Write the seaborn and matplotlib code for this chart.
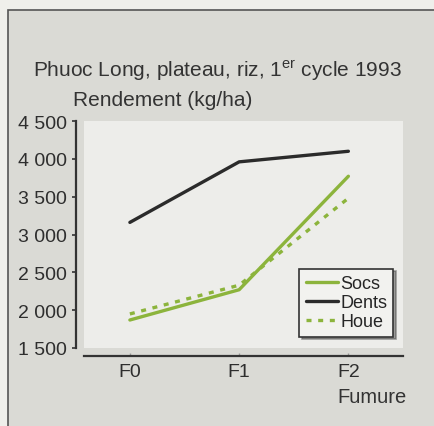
import numpy as np
import pandas as pd
import seaborn as sns
import matplotlib.pyplot as plt
from matplotlib.patches import Rectangle

# Data
fumure = ["F0", "F1", "F2"]
socs = [1870, 2270, 3770]
dents = [3160, 3960, 4100]
houe = [1950, 2330, 3480]
series = ["Socs", "Dents", "Houe"]
y_ticks = [1500, 2000, 2500, 3000, 3500, 4000, 4500]

df = pd.DataFrame({
    "Fumure": fumure * 3,
    "Rendement": socs + dents + houe,
    "Outil": np.repeat(series, len(fumure)),
})

sns.set_style("ticks")
plt.rcParams["font.family"] = ["Liberation Sans", "DejaVu Sans"]
plt.rcParams["mathtext.fontset"] = "custom"
plt.rcParams["mathtext.rm"] = "Liberation Sans"

fig = plt.figure(figsize=(4.34, 4.27), dpi=100, facecolor="#efefeb")
# outer frame of the figure panel
fig.patches.append(Rectangle((8 / 434, -0.05), 1.0, 1 - 11 / 427 + 0.05,
                             transform=fig.transFigure, facecolor="#dadad5",
                             edgecolor="#555555", linewidth=1.2, zorder=-10))

ax = fig.add_axes([84 / 434, 1 - 349 / 427, 319 / 434, 227 / 427])
ax.set_zorder(5)
ax.set_facecolor("#ededea")

palette = {"Socs": "#8cb43c", "Dents": "#2b2b2b", "Houe": "#8cb43c"}
dashes = {"Socs": "", "Dents": "", "Houe": (1.5, 2.0)}
sns.lineplot(data=df, x="Fumure", y="Rendement", hue="Outil", style="Outil",
             palette=palette, dashes=dashes, linewidth=2.4, ax=ax, sort=False)

ax.set_xlim(-0.42, 2.5)
ax.set_ylim(1500, 4500)
ax.set_yticks(y_ticks)
ax.set_yticklabels([f"{v:,}".replace(",", " ") for v in y_ticks])
ax.set_xticks(range(len(fumure)))
ax.set_xticklabels(fumure)
ax.set_xlabel("")
ax.set_ylabel("")
sns.despine(ax=ax, offset=6)
ax.tick_params(axis="y", length=3, width=1.2, color="#333333", pad=3,
               labelsize=14, labelcolor="#2e2e2e")
ax.tick_params(axis="x", length=2, width=1, direction="in", color="#999999", pad=5,
               labelsize=14, labelcolor="#2e2e2e")
for s in ["left", "bottom"]:
    ax.spines[s].set_linewidth(1.6)
    ax.spines[s].set_color("#333333")

leg = ax.legend(loc="lower right", bbox_to_anchor=(0.97, 0.05), fontsize=13,
                frameon=True, fancybox=False, shadow=True, handlelength=1.8,
                handletextpad=0.1, labelspacing=0.12, borderpad=0.35,
                borderaxespad=0)
leg.get_frame().set_edgecolor("#333333")
leg.get_frame().set_facecolor("#f2f2ef")
leg.get_frame().set_linewidth(1.2)

fig.text(0.5, 1 - 71 / 427, r"Phuoc Long, plateau, riz, 1$^{\mathrm{er}}$ cycle 1993",
         ha="center", va="center", fontsize=15, color="#333333")
fig.text(73 / 434, 1 - 101 / 427, "Rendement (kg/ha)", ha="left", va="center",
         fontsize=15, color="#333333")
fig.text(407 / 434, 1 - 398 / 427, "Fumure", ha="right", va="center",
         fontsize=14.5, color="#333333")

fig.savefig("out.png", dpi=100, facecolor=fig.get_facecolor())
